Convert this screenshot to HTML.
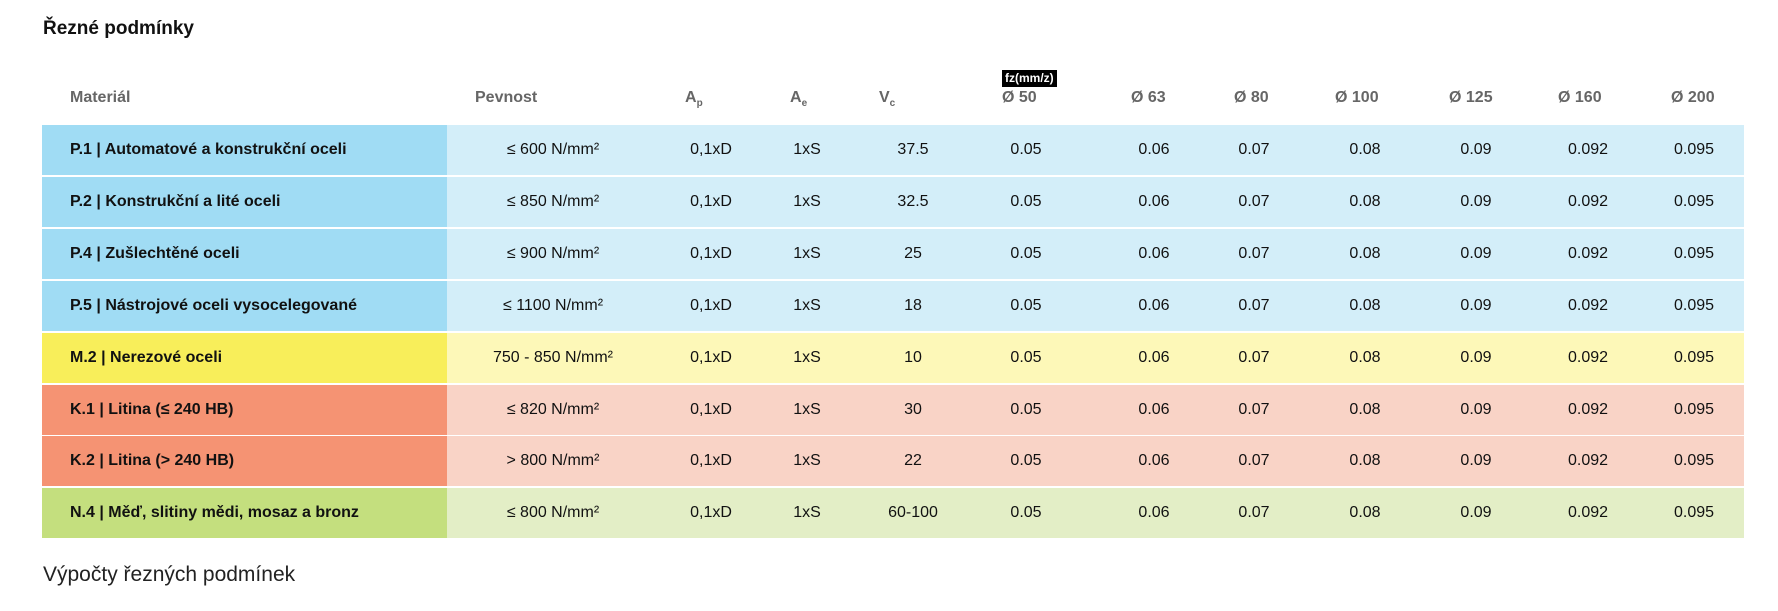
<!DOCTYPE html>
<html><head><meta charset="utf-8"><style>
body{margin:0;width:1778px;height:611px;background:#fff;position:relative;overflow:hidden;font-family:"Liberation Sans",sans-serif;color:#111}
.a{position:absolute;white-space:nowrap}
.h{font-weight:bold;color:#666;font-size:16px;top:89px}
.h sub{font-size:10px}
.r{position:absolute;left:42px;width:1702px;height:50px}
.m{position:absolute;left:0;top:0;width:405px;height:50px}
.mt{position:absolute;left:28px;top:0;line-height:50px;font-weight:bold;font-size:16px}
.v{position:absolute;top:0;line-height:50px;font-size:16px;width:160px;text-align:center}
</style></head><body>
<div class="a" style="left:43px;top:18px;font-weight:bold;font-size:19px">Řezné podmínky</div>
<div class="a h" style="left:70px">Materiál</div>
<div class="a h" style="left:475px">Pevnost</div>
<div class="a h" style="left:685px">A<sub>p</sub></div>
<div class="a h" style="left:790px">A<sub>e</sub></div>
<div class="a h" style="left:879px">V<sub>c</sub></div>
<div class="a" style="left:1002px;top:70px;height:17px;background:#000;color:#fff;font-weight:bold;font-size:12px;line-height:17px;padding:0 3px">fz(mm/z)</div>
<div class="a h" style="left:1002px">Ø 50</div>
<div class="a h" style="left:1131px">Ø 63</div>
<div class="a h" style="left:1234px">Ø 80</div>
<div class="a h" style="left:1335px">Ø 100</div>
<div class="a h" style="left:1449px">Ø 125</div>
<div class="a h" style="left:1558px">Ø 160</div>
<div class="a h" style="left:1671px">Ø 200</div>
<div id="rows"></div>
<div class="a" style="left:43px;top:563px;font-size:21px;color:#222">Výpočty řezných podmínek</div>
<script>
var rows=[["P.1 | Automatové a konstrukční oceli","≤ 600 N/mm²","37.5","#a0dcf4","#d3eef9"],
["P.2 | Konstrukční a lité oceli","≤ 850 N/mm²","32.5","#a0dcf4","#d3eef9"],
["P.4 | Zušlechtěné oceli","≤ 900 N/mm²","25","#a0dcf4","#d3eef9"],
["P.5 | Nástrojové oceli vysocelegované","≤ 1100 N/mm²","18","#a0dcf4","#d3eef9"],
["M.2 | Nerezové oceli","750 - 850 N/mm²","10","#f8ee5a","#fdf8b8"],
["K.1 | Litina (≤ 240 HB)","≤ 820 N/mm²","30","#f59373","#f9d3c6"],
["K.2 | Litina (> 240 HB)","> 800 N/mm²","22","#f59373","#f9d3c6"],
["N.4 | Měď, slitiny mědi, mosaz a bronz","≤ 800 N/mm²","60-100","#c4df7e","#e3eec6"]];
var cx=[553,711,807,913,1026,1154,1254,1365,1476,1588,1694];
var h="";
rows.forEach(function(r,i){
var top=Math.round(125+i*51.9);
var vals=[r[1],"0,1xD","1xS",r[2],"0.05","0.06","0.07","0.08","0.09","0.092","0.095"];
h+='<div class="r" style="top:'+top+'px;background:'+r[4]+'"><div class="m" style="background:'+r[3]+'"></div><div class="mt">'+r[0]+'</div>';
vals.forEach(function(v,j){h+='<div class="v" style="left:'+(cx[j]-42-80)+'px">'+v+'</div>';});
h+='</div>';});
document.getElementById("rows").innerHTML=h;
</script>
</body></html>
